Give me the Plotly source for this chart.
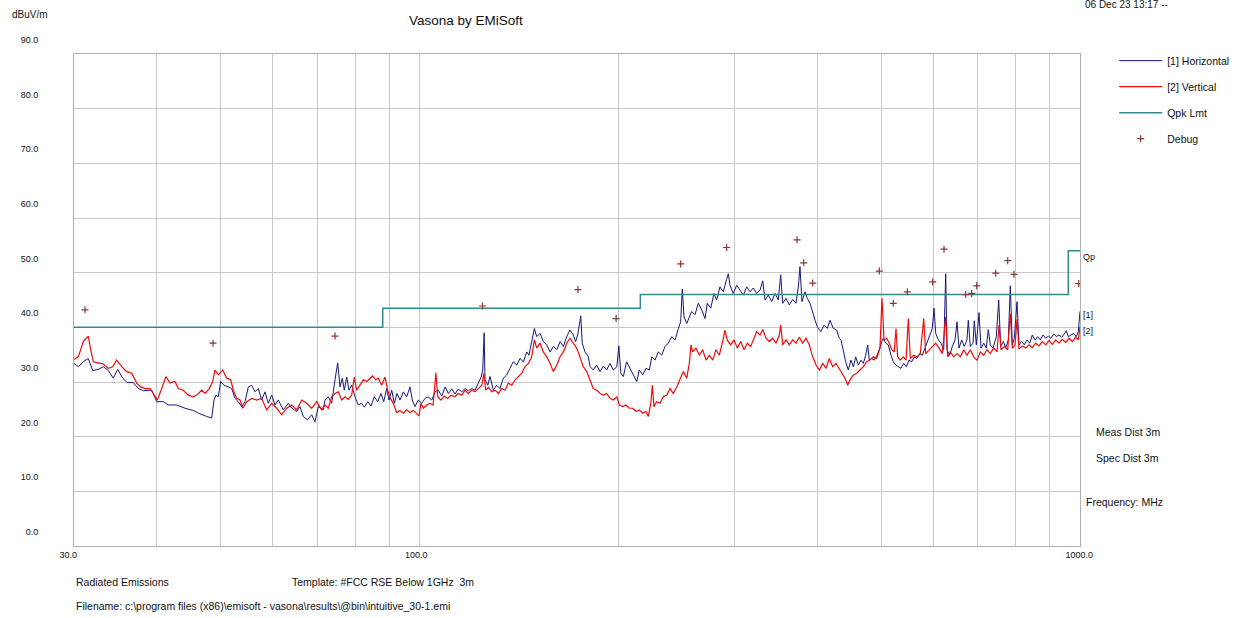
import math
import plotly.graph_objects as go

# [1] Horizontal polarisation sweep: frequency (MHz) and level (dBuV/m)
horiz_freq = [
    30.00, 30.45, 30.99, 31.53, 32.02, 32.65, 33.23, 33.81, 34.40, 34.94, 35.55, 36.12, 36.89, 37.54,
    38.20, 39.33, 40.02, 40.96, 41.68, 42.91, 44.17, 45.47, 46.27, 46.82, 47.64, 48.48, 48.87, 49.21,
    49.61, 50.03, 50.60, 51.37, 51.98, 52.58, 53.19, 53.83, 54.45, 55.08, 55.73, 56.38, 57.03, 57.71,
    58.38, 59.05, 59.76, 60.45, 61.15, 62.22, 63.32, 64.07, 65.20, 65.95, 66.72, 67.65, 68.70, 69.49,
    70.30, 71.53,
    71.96, 72.79, 73.66, 74.51, 75.21, 75.82, 76.43, 76.97, 77.62, 78.24, 78.98, 79.89, 80.81, 81.78,
    82.53, 83.51, 84.48, 85.45, 86.47, 87.47, 88.30, 89.22, 89.94, 90.79, 91.63, 92.49, 93.46, 94.55,
    95.67, 96.77, 97.55, 98.47, 99.61, 100.8, 102.0, 103.1, 104.4, 105.6, 106.8, 108.1, 109.4, 110.6,
    112.0, 113.2, 114.5, 115.9, 117.2, 118.6, 120.0, 121.4, 122.8, 124.0, 124.7, 125.3, 125.7, 126.9,
    127.9, 129.4, 130.9, 132.4, 134.0, 135.6, 137.1, 138.7, 140.4, 142.0, 143.7, 145.4, 146.5, 147.9,
    149.3, 150.5, 152.3, 154.0, 155.9, 157.7, 159.5, 161.4, 163.3, 165.2, 167.1, 169.0, 171.0, 172.4,
    173.6, 175.5, 176.4, 178.1, 180.2,
    181.3, 183.3, 185.5, 187.7, 189.9, 192.1, 194.3, 196.6, 199.0, 200.4, 201.8, 203.6, 205.9, 208.3,
    210.7, 213.3, 215.2, 217.8, 220.3, 222.9, 224.8, 227.3, 229.9, 232.7, 235.4, 238.1, 241.0, 243.8,
    246.6, 248.6, 250.0, 251.5, 253.9, 256.2, 258.3, 261.3, 264.3, 267.5, 270.6, 272.8, 276.1, 279.2,
    281.8, 285.1, 288.4, 291.8, 293.5, 295.2, 298.6, 302.2, 305.7, 309.3, 312.9, 316.6, 320.2, 324.0,
    327.8, 330.9, 333.6, 337.4, 341.4, 345.4, 349.4, 352.3, 354.8, 358.9, 363.0, 367.4, 371.6, 374.6,
    376.8, 379.4, 383.4, 386.5, 390.2, 393.9, 397.1, 400.3, 405.1, 409.7, 414.4, 418.4, 423.2, 428.2,
    432.1,
    434.7, 438.2, 441.9, 445.9, 450.1, 453.8, 457.6, 461.8, 466.1, 469.9, 473.8, 477.1, 479.8, 483.8,
    488.2, 492.8, 496.8, 501.0, 503.8, 508.0, 512.6, 517.5, 521.6, 526.6, 530.8, 535.8, 540.9, 545.9,
    551.0, 556.2, 561.3, 566.6, 571.9, 577.2, 582.6, 588.1, 593.5, 597.6, 601.2, 604.8, 610.3, 616.1,
    621.9, 626.2, 629.0, 635.0, 640.8, 646.9, 651.4, 655.9, 662.1, 668.1, 674.4, 677.5, 682.2, 688.7,
    691.8, 696.7, 703.3, 708.2, 714.9, 721.4, 726.4, 731.5, 738.4, 743.6, 747.0, 753.2, 758.5, 765.4,
    771.9, 778.9, 784.3, 789.8, 795.3, 802.9, 808.5, 816.1, 823.6, 831.3, 839.2, 846.9, 854.9, 863.0,
    870.8, 879.0, 887.3, 895.4, 903.9, 912.4, 920.8, 929.5, 938.3, 946.8, 953.4, 960.1, 969.2, 978.3,
    987.2, 994.1, 1000.0,
]
horiz_level = [
    33.4, 32.8, 33.7, 34.3, 32.1, 32.3, 32.8, 32.1, 30.7, 32.3, 30.7, 29.9, 29.9, 28.8,
    28.4, 28.5, 26.4, 26.4, 25.8, 25.8, 25.2, 24.8, 24.3, 24.0, 23.7, 23.4, 26.7, 27.6,
    27.3, 30.1, 29.4, 29.1, 28.8, 27.0, 26.4, 25.5, 26.4, 29.1, 29.4, 28.2, 28.8, 26.7,
    28.2, 26.1, 27.6, 25.8, 26.7, 24.9, 26.1, 25.2, 24.6, 25.5, 23.7, 23.1, 24.0, 22.7,
    25.5, 24.9,
    26.7, 27.3, 26.1, 30.4, 33.5, 29.1, 30.7, 28.5, 30.9, 28.5, 29.4, 27.3, 25.8, 26.1,
    25.4, 26.4, 25.6, 27.3, 26.4, 27.9, 26.4, 28.8, 26.7, 28.5, 26.1, 27.9, 26.7, 28.2,
    27.3, 29.1, 26.7, 25.5, 26.7, 26.1, 27.0, 27.3, 26.7, 28.2, 28.5, 27.4, 29.1, 27.9,
    28.7, 27.8, 28.7, 28.2, 28.8, 28.4, 28.8, 28.5, 29.8, 30.9, 32.2, 39.0, 30.4, 29.4,
    31.0, 28.5, 29.4, 28.8, 30.7, 31.3, 32.5, 33.7, 33.1, 34.3, 33.7, 35.5, 34.9, 37.1,
    39.8, 38.3, 38.9, 37.4, 36.8, 35.5, 36.5, 35.9, 37.4, 36.5, 38.3, 39.5, 38.6, 37.4,
    38.6, 42.1, 37.1, 35.5, 34.6,
    32.8, 32.2, 33.1, 31.9, 32.9, 32.2, 33.4, 32.2, 32.8, 36.6, 31.6, 31.0, 33.7, 32.5,
    31.3, 30.1, 32.2, 31.3, 32.5, 32.2, 34.6, 34.0, 35.5, 34.9, 36.5, 37.1, 38.3, 37.7,
    39.8, 41.0, 47.0, 41.9, 40.7, 41.9, 42.9, 42.3, 44.4, 43.2, 41.6, 44.4, 43.5, 46.2,
    45.0, 47.4, 46.5, 48.8, 49.8, 47.7, 46.2, 47.7, 46.8, 45.9, 47.4, 46.5, 47.2, 46.2,
    46.8, 48.5, 45.0, 45.9, 44.7, 46.2, 45.0, 49.6, 44.4, 45.3, 44.1, 45.1, 44.4, 47.4,
    51.1, 44.7, 46.5, 45.3, 44.4, 42.6, 41.3, 40.1, 39.2, 40.4, 39.8, 41.3, 39.8, 39.5,
    38.0,
    37.7, 35.5, 33.7, 32.2, 34.0, 32.8, 34.6, 33.1, 34.0, 33.4, 34.9, 36.8, 34.0, 34.3,
    34.0, 34.9, 35.9, 37.4, 38.0, 37.1, 36.8, 34.9, 33.7, 33.1, 32.8, 32.5, 33.4, 32.8,
    34.0, 33.7, 34.6, 34.3, 35.2, 34.9, 36.2, 37.4, 38.6, 39.8, 43.5, 38.9, 37.7, 37.1,
    35.9, 49.8, 35.9, 34.9, 36.5, 37.7, 41.0, 36.2, 37.7, 36.5, 37.7, 41.3, 36.5, 37.1,
    41.2, 36.8, 42.7, 36.2, 37.1, 36.2, 39.6, 36.8, 36.2, 37.7, 38.3, 45.0, 36.5, 37.4,
    36.3, 37.7, 47.6, 36.8, 38.0, 44.7, 36.8, 37.4, 36.8, 37.7, 37.1, 38.6, 37.7, 38.3,
    37.7, 38.6, 38.0, 38.4, 38.0, 38.8, 38.3, 38.6, 38.2, 38.8, 39.4, 38.3, 38.6, 38.9,
    38.3, 39.2, 42.9,
]

# [2] Vertical polarisation sweep: frequency (MHz) and level (dBuV/m)
vert_freq = [
    30.00, 30.45, 30.99, 31.53, 31.80, 32.09, 32.65, 33.23, 33.81, 34.33, 34.81, 35.43, 36.05, 36.68,
    37.33, 37.85, 38.42, 39.10, 39.55, 40.11, 40.73, 41.34, 41.92, 42.66, 43.15, 43.91, 44.68, 45.47,
    46.01, 46.82, 47.36, 48.08, 48.65, 49.04, 49.61, 50.38, 51.08, 51.80, 52.27, 52.90, 53.51, 54.01,
    54.77, 55.73, 56.71, 57.71, 58.73, 59.76, 60.81, 61.88, 62.97, 64.07, 65.20, 66.35, 67.51, 68.70,
    69.91, 71.14,
    71.96, 72.79, 73.66, 74.51, 75.37, 76.27, 77.16, 78.05, 78.98, 79.69, 80.36, 81.29, 82.23, 83.22,
    84.18, 84.98, 85.87, 86.65, 87.68, 88.70, 89.54, 90.35, 91.30, 92.40, 93.46, 94.55, 95.67, 96.77,
    97.89, 99.06, 99.86, 100.55, 101.4, 102.6, 103.7, 104.9, 105.9, 106.6, 107.8, 109.1, 110.4, 111.7,
    113.2, 114.5, 115.9, 117.2, 118.6, 120.0, 121.4, 122.8, 124.3, 125.2, 126.0, 127.2, 128.7, 130.2,
    131.7, 133.2, 134.8, 136.3, 138.0, 139.6, 141.2, 142.9, 144.5, 146.2, 147.9, 149.3, 150.5, 152.3,
    154.0, 155.9, 157.7, 159.5, 161.4, 163.3, 165.2, 167.1, 169.0, 171.0, 173.0, 175.0, 177.0, 179.2,
    181.3, 183.3, 185.5, 187.7, 189.9, 192.1, 194.3, 196.6, 199.0, 200.8, 203.2, 205.4, 207.8, 210.3,
    212.8, 215.2, 217.8, 220.3, 222.1, 224.0, 225.2, 226.5, 228.6, 231.3, 234.0, 236.8, 239.6, 242.3,
    245.2, 248.0, 250.9, 253.9, 256.2, 257.7, 259.2, 262.2, 265.3, 268.4, 271.6, 274.7, 278.0, 281.2,
    284.4, 287.8, 290.1, 292.4, 295.9, 299.4, 302.9, 306.5, 310.0, 313.6, 317.3, 320.2, 324.0, 327.8,
    330.9, 334.7, 338.6, 342.6, 346.6, 350.6, 352.3, 354.8, 358.9, 363.0, 367.4, 371.6, 375.9, 380.4,
    384.8, 389.2, 393.9, 398.5, 403.1, 407.9, 412.6, 417.3, 422.3, 427.2, 432.1,
    435.7, 440.8, 445.0, 448.6, 453.8, 459.2, 464.5, 469.9, 475.5, 481.0, 486.5, 492.3, 498.0, 501.5,
    505.0, 509.8, 514.4, 518.7, 523.4, 526.6, 529.7, 534.5, 540.1, 545.3, 549.7, 553.5, 560.1, 566.6,
    573.1, 580.0, 584.0, 590.8, 597.6, 604.8, 611.8, 618.9, 626.2, 630.6, 636.3, 643.9, 651.4, 658.9,
    666.8, 674.4, 682.2, 690.4, 698.4, 706.4, 714.9, 723.1, 731.5, 740.2, 748.8, 754.0, 759.3, 768.1,
    777.3, 784.3, 789.8, 797.3, 802.9, 808.5, 817.8, 827.6, 837.2, 846.9, 857.0, 866.9, 876.9, 887.3,
    897.6, 908.0, 918.8, 929.5, 940.2, 951.4, 962.4, 973.6, 985.1, 994.1, 1000.0,
]
vert_level = [
    34.1, 34.6, 37.4, 38.4, 35.9, 33.7, 33.5, 33.3, 32.5, 32.8, 34.0, 32.8, 31.9, 31.6,
    29.8, 29.1, 28.8, 28.8, 27.9, 26.7, 28.8, 31.0, 29.8, 30.1, 28.8, 28.5, 27.6, 27.3,
    27.6, 28.5, 27.9, 28.8, 30.1, 32.2, 31.3, 32.2, 30.7, 30.4, 28.5, 27.0, 26.7, 25.2,
    26.4, 27.0, 26.7, 27.0, 24.9, 26.1, 25.2, 24.0, 25.2, 25.8, 24.9, 26.7, 26.1, 25.2,
    26.4, 24.9,
    25.8, 25.2, 27.3, 27.9, 28.2, 26.7, 27.3, 26.8, 27.6, 30.9, 28.5, 29.4, 30.4, 30.1,
    30.7, 31.1, 30.4, 30.7, 29.4, 30.9, 28.5, 27.0, 26.1, 24.4, 24.8, 24.3, 24.9, 24.4,
    24.8, 24.1, 23.8, 26.1, 25.2, 25.8, 26.1, 25.8, 31.7, 27.3, 26.7, 27.4, 27.0, 27.6,
    27.3, 27.9, 27.6, 28.5, 27.9, 28.5, 28.2, 28.8, 29.4, 31.6, 28.5, 29.0, 28.2, 28.5,
    27.9, 28.8, 28.5, 29.8, 29.4, 30.4, 31.0, 31.6, 32.8, 33.4, 34.6, 37.7, 36.2, 37.1,
    35.5, 34.6, 33.4, 31.9, 33.1, 34.6, 35.5, 37.1, 38.0, 37.1, 36.2, 34.6, 32.8, 31.9,
    30.1, 28.8, 28.5, 27.9, 27.6, 27.9, 27.0, 26.7, 27.3, 25.8, 25.5, 25.8, 25.2, 25.2,
    24.6, 24.9, 24.3, 24.6, 23.7, 26.1, 29.4, 25.5, 26.4, 26.1, 27.3, 27.6, 28.8, 27.9,
    29.1, 30.4, 31.9, 30.7, 33.4, 36.8, 35.5, 36.2, 34.9, 35.9, 34.0, 34.9, 34.0, 35.9,
    34.9, 37.4, 39.5, 37.7, 36.8, 37.7, 36.2, 37.4, 35.9, 37.1, 36.5, 37.7, 39.2, 38.6,
    39.6, 38.0, 37.4, 38.0, 37.1, 38.6, 40.4, 36.8, 37.7, 36.8, 37.7, 37.1, 38.2, 37.1,
    38.0, 36.8, 34.6, 33.1, 32.2, 33.4, 32.5, 34.3, 32.8, 33.4, 32.5,
    31.6, 30.7, 29.4, 30.4, 31.3, 31.6, 32.2, 32.8, 33.7, 34.0, 34.6, 34.3, 36.2, 45.3,
    37.7, 38.0, 37.1, 35.9, 35.5, 39.8, 34.6, 34.0, 34.6, 34.0, 41.6, 34.3, 34.9, 34.6,
    35.2, 41.6, 35.2, 35.9, 36.5, 37.1, 36.2, 35.2, 41.9, 34.6, 35.5, 34.6, 35.2, 34.6,
    35.9, 34.9, 35.9, 34.6, 34.0, 35.5, 34.9, 35.9, 35.2, 36.2, 35.5, 40.4, 35.9, 36.5,
    35.9, 42.5, 36.2, 36.8, 41.5, 36.0, 36.6, 36.2, 36.8, 36.3, 37.1, 36.6, 37.4, 36.8,
    37.6, 36.9, 37.7, 37.1, 37.8, 37.2, 38.0, 37.4, 38.2, 37.7, 40.1,
]

# FCC quasi-peak limit at 3 m (step edges in MHz)
limit_freq = [30.0, 88.0, 216.0, 960.0, 1000.0]
limit_level = [40.0, 43.5, 46.0, 54.0, 54.0]

# Debug markers
debug_freq = [31.17, 48.70, 74.51, 124.6, 173.8, 198.5, 248.6, 291.8, 372.9, 381.7, 393.9, 496.8,
              521.6, 547.8, 598.5, 622.5, 671.4, 685.6, 697.6, 745.4, 777.3, 794.5, 995.5]
debug_level = [43.2, 37.1, 38.4, 43.9, 46.9, 41.6, 51.6, 54.6, 56.0, 51.8, 48.1, 50.3,
               44.4, 46.5, 48.3, 54.3, 46.0, 46.2, 47.6, 49.9, 52.2, 49.7, 48.0]

y_ticks = [0, 10, 20, 30, 40, 50, 60, 70, 80, 90]
y_tick_text = ["0.0", "10.0", "20.0", "30.0", "40.0", "50.0", "60.0", "70.0", "80.0", "90.0"]
x_ticks = [30, 40, 50, 60, 70, 80, 90, 100, 200, 300, 400, 500, 600, 700, 800, 900, 1000]
x_tick_text = ["30.0", "", "", "", "", "", "", "100.0", "", "", "", "", "", "", "", "", "1000.0"]

FONT = "Liberation Sans, Arial, sans-serif"
NAVY = "#16167c"
RED = "#f20c0c"
TEAL = "#2f8b8b"
DEBUG = "#8b3535"
GRID = "#c8c8c8"

fig = go.Figure()
fig.add_trace(go.Scatter(x=horiz_freq, y=horiz_level, mode="lines", name="[1] Horizontal",
                         legendgroup="h", line=dict(color=NAVY, width=1)))
fig.add_trace(go.Scatter(x=vert_freq, y=vert_level, mode="lines", name="[2] Vertical",
                         legendgroup="v", line=dict(color=RED, width=1.2)))
fig.add_trace(go.Scatter(x=limit_freq, y=limit_level, mode="lines", name="Qpk Lmt",
                         legendgroup="l", line=dict(color=TEAL, width=1.5, shape="hv")))
fig.add_trace(go.Scatter(x=debug_freq, y=debug_level, mode="markers", name="Debug",
                         legendgroup="d",
                         marker=dict(symbol="cross-thin", size=5, color=DEBUG,
                                     line=dict(color=DEBUG, width=1.2))))

# trace end labels at the right edge of the plot
end_labels = [
    ("Qp", limit_level[-1], -6),
    ("[1]", horiz_level[-1], -4),
    ("[2]", vert_level[-1], -4),
]
annotations = []
for text, level, shift in end_labels:
    annotations.append(dict(x=math.log10(limit_freq[-1]), y=level, xref="x", yref="y", text=text,
                            showarrow=False, xanchor="left", yanchor="middle", xshift=1, yshift=shift,
                            font=dict(family=FONT, size=9, color="#111")))

side_texts = [
    ("dBuV/m", -0.0636, 1.0793, 10),
    ("06 Dec 23 13:17 --", 1.003, 1.0996, 10),
    ("Meas Dist 3m", 1.0139, 0.2317, 10.5),
    ("Spec Dist 3m", 1.0139, 0.1789, 10.5),
    ("Frequency: MHz", 1.004, 0.0894, 10.5),
    ("Radiated Emissions", 0.0, -0.0732, 10.5),
    ("Template: #FCC RSE Below 1GHz \u00a03m", 0.2147, -0.0732, 10.5),
    (r"Filename: c:\program files (x86)\emisoft - vasona\results\@bin\intuitive_30-1.emi", 0.0, -0.122, 10.5),
]
for text, px, py, size in side_texts:
    annotations.append(dict(x=px, y=py, xref="paper", yref="paper", text=text, showarrow=False,
                            xanchor="left", yanchor="middle",
                            font=dict(family=FONT, size=size, color="#111")))

fig.update_layout(
    width=1235, height=618,
    margin=dict(l=74, r=155, t=54, b=72, autoexpand=False),
    paper_bgcolor="white", plot_bgcolor="white",
    font=dict(family=FONT, color="#111"),
    title=dict(text="Vasona by EMiSoft", x=0.3773, xanchor="center", y=0.9676, yanchor="middle",
               font=dict(family=FONT, size=13.5, color="#111")),
    showlegend=True,
    legend=dict(x=1.034, y=1.016, xanchor="left", yanchor="top", bgcolor="rgba(0,0,0,0)",
                font=dict(family=FONT, size=10.5, color="#111"), tracegroupgap=7, itemwidth=43),
    annotations=annotations,
    xaxis=dict(type="log", range=[math.log10(30), math.log10(1000)], tickmode="array",
               tickvals=x_ticks, ticktext=x_tick_text, showgrid=True, gridcolor=GRID, gridwidth=1,
               showline=True, linecolor="#b0b0b0", linewidth=1, mirror=True, zeroline=False,
               ticks="", ticklabelposition="outside right", ticklabelshift=-15,
               tickfont=dict(family=FONT, size=9, color="#111")),
    yaxis=dict(range=[0, 90], tickmode="array", tickvals=y_ticks, ticktext=y_tick_text,
               showgrid=True, gridcolor=GRID, gridwidth=1, showline=True, linecolor="#b0b0b0",
               linewidth=1, mirror=True, zeroline=False, ticks="", ticklabelshift=-14,
               ticklabelstandoff=33, tickfont=dict(family=FONT, size=9, color="#111")),
)

fig.write_html("out.html")
